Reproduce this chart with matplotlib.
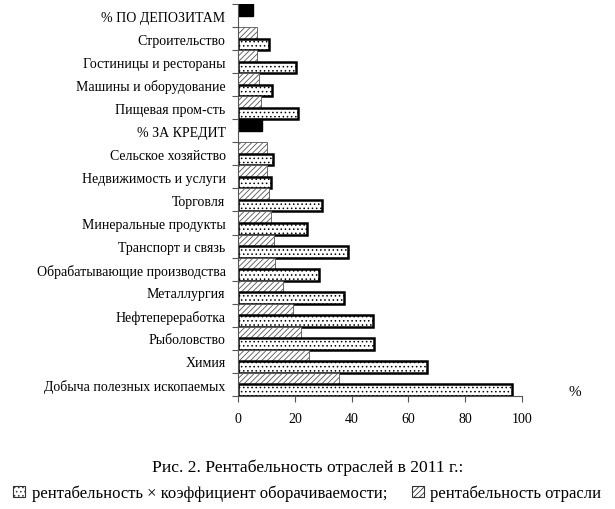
import matplotlib
matplotlib.use("Agg")
import matplotlib.pyplot as plt
import matplotlib.patches as mpatches
import numpy as np

plt.rcParams['font.family'] = ['Liberation Serif', 'DejaVu Serif']
plt.rcParams['hatch.linewidth'] = 0.6

# top to bottom
categories = ['% ПО ДЕПОЗИТАМ', 'Строительство', 'Гостиницы и рестораны',
              'Машины и оборудование', 'Пищевая пром-сть', '% ЗА КРЕДИТ',
              'Сельское хозяйство', 'Недвижимость и услуги', 'Торговля',
              'Минеральные продукты', 'Транспорт и связь',
              'Обрабатывающие производства', 'Металлургия', 'Нефтепереработка',
              'Рыболовство', 'Химия', 'Добыча полезных ископаемых']
# рентабельность отрасли (hatched); rate rows are the black bars
rent = [5.3, 6.8, 6.8, 7.3, 8.2, 8.5,
        10.3, 10.3, 10.8, 11.7, 12.8, 13.1, 16.0, 19.5, 22.1, 24.9, 35.7]
# рентабельность x коэффициент оборачиваемости (dotted)
rent_turn = [np.nan, 10.9, 20.3, 11.9, 21.0, np.nan,
             12.2, 11.7, 29.7, 24.4, 38.8, 28.6, 37.2, 47.6, 47.9, 66.4, 96.4]
rate_rows = ['% ПО ДЕПОЗИТАМ', '% ЗА КРЕДИТ']

fig = plt.figure(figsize=(6.15, 5.1), dpi=100)
ax = fig.add_axes([0.387, 0.222, 0.462, 0.768])

y = np.arange(len(categories))
h = 0.5
for i, cat in enumerate(categories):
    if cat in rate_rows:
        ax.barh(y[i] - h / 2, rent[i], height=h, color='black', edgecolor='black')
    else:
        ax.barh(y[i] - h / 2, rent[i], height=h, color='white', edgecolor='#555555',
                hatch='//////', linewidth=0.6)
        ax.barh(y[i] + h / 2, rent_turn[i], height=h, color='white', edgecolor='black',
                hatch='....', linewidth=1.8)

ax.set_ylim(len(categories) - 0.5, -0.5)
ax.set_xlim(0, 100)
ax.set_yticks(y)
ax.set_yticklabels(categories, fontsize=10)
ax.set_yticks(np.arange(len(categories) + 1) - 0.5, minor=True)
ax.tick_params(axis='y', which='major', length=0, pad=9)
ax.tick_params(axis='y', which='minor', length=4, width=0.8, color='#555555')
ax.set_xticks([0, 20, 40, 60, 80, 100])
ax.tick_params(axis='x', length=4, width=0.8, color='#555555', labelsize=10, pad=8)
for s in ['top', 'right']:
    ax.spines[s].set_visible(False)
ax.spines['left'].set_color('#555555')
ax.spines['bottom'].set_color('#555555')

fig.text(575 / 615, 1 - 393 / 510, '%', fontsize=11, ha='center', va='center')
fig.text(308 / 615, 1 - 468 / 510, 'Рис. 2. Рентабельность отраслей в 2011 г.:',
         fontsize=12.6, ha='center', va='center')

h1 = mpatches.Patch(facecolor='white', edgecolor='#333333', hatch='....', linewidth=0.8)
h2 = mpatches.Patch(facecolor='white', edgecolor='#333333', hatch='//////', linewidth=0.8)
fig.legend([h1, h2], ['рентабельность × коэффициент оборачиваемости;', 'рентабельность отрасли'],
           loc='center', bbox_to_anchor=(0.5, 1 - 494 / 510), ncol=2, frameon=False,
           fontsize=12, handlelength=0.7, handleheight=0.7, handletextpad=0.4,
           columnspacing=1.5, borderpad=0)

fig.savefig('out.png', dpi=100)
